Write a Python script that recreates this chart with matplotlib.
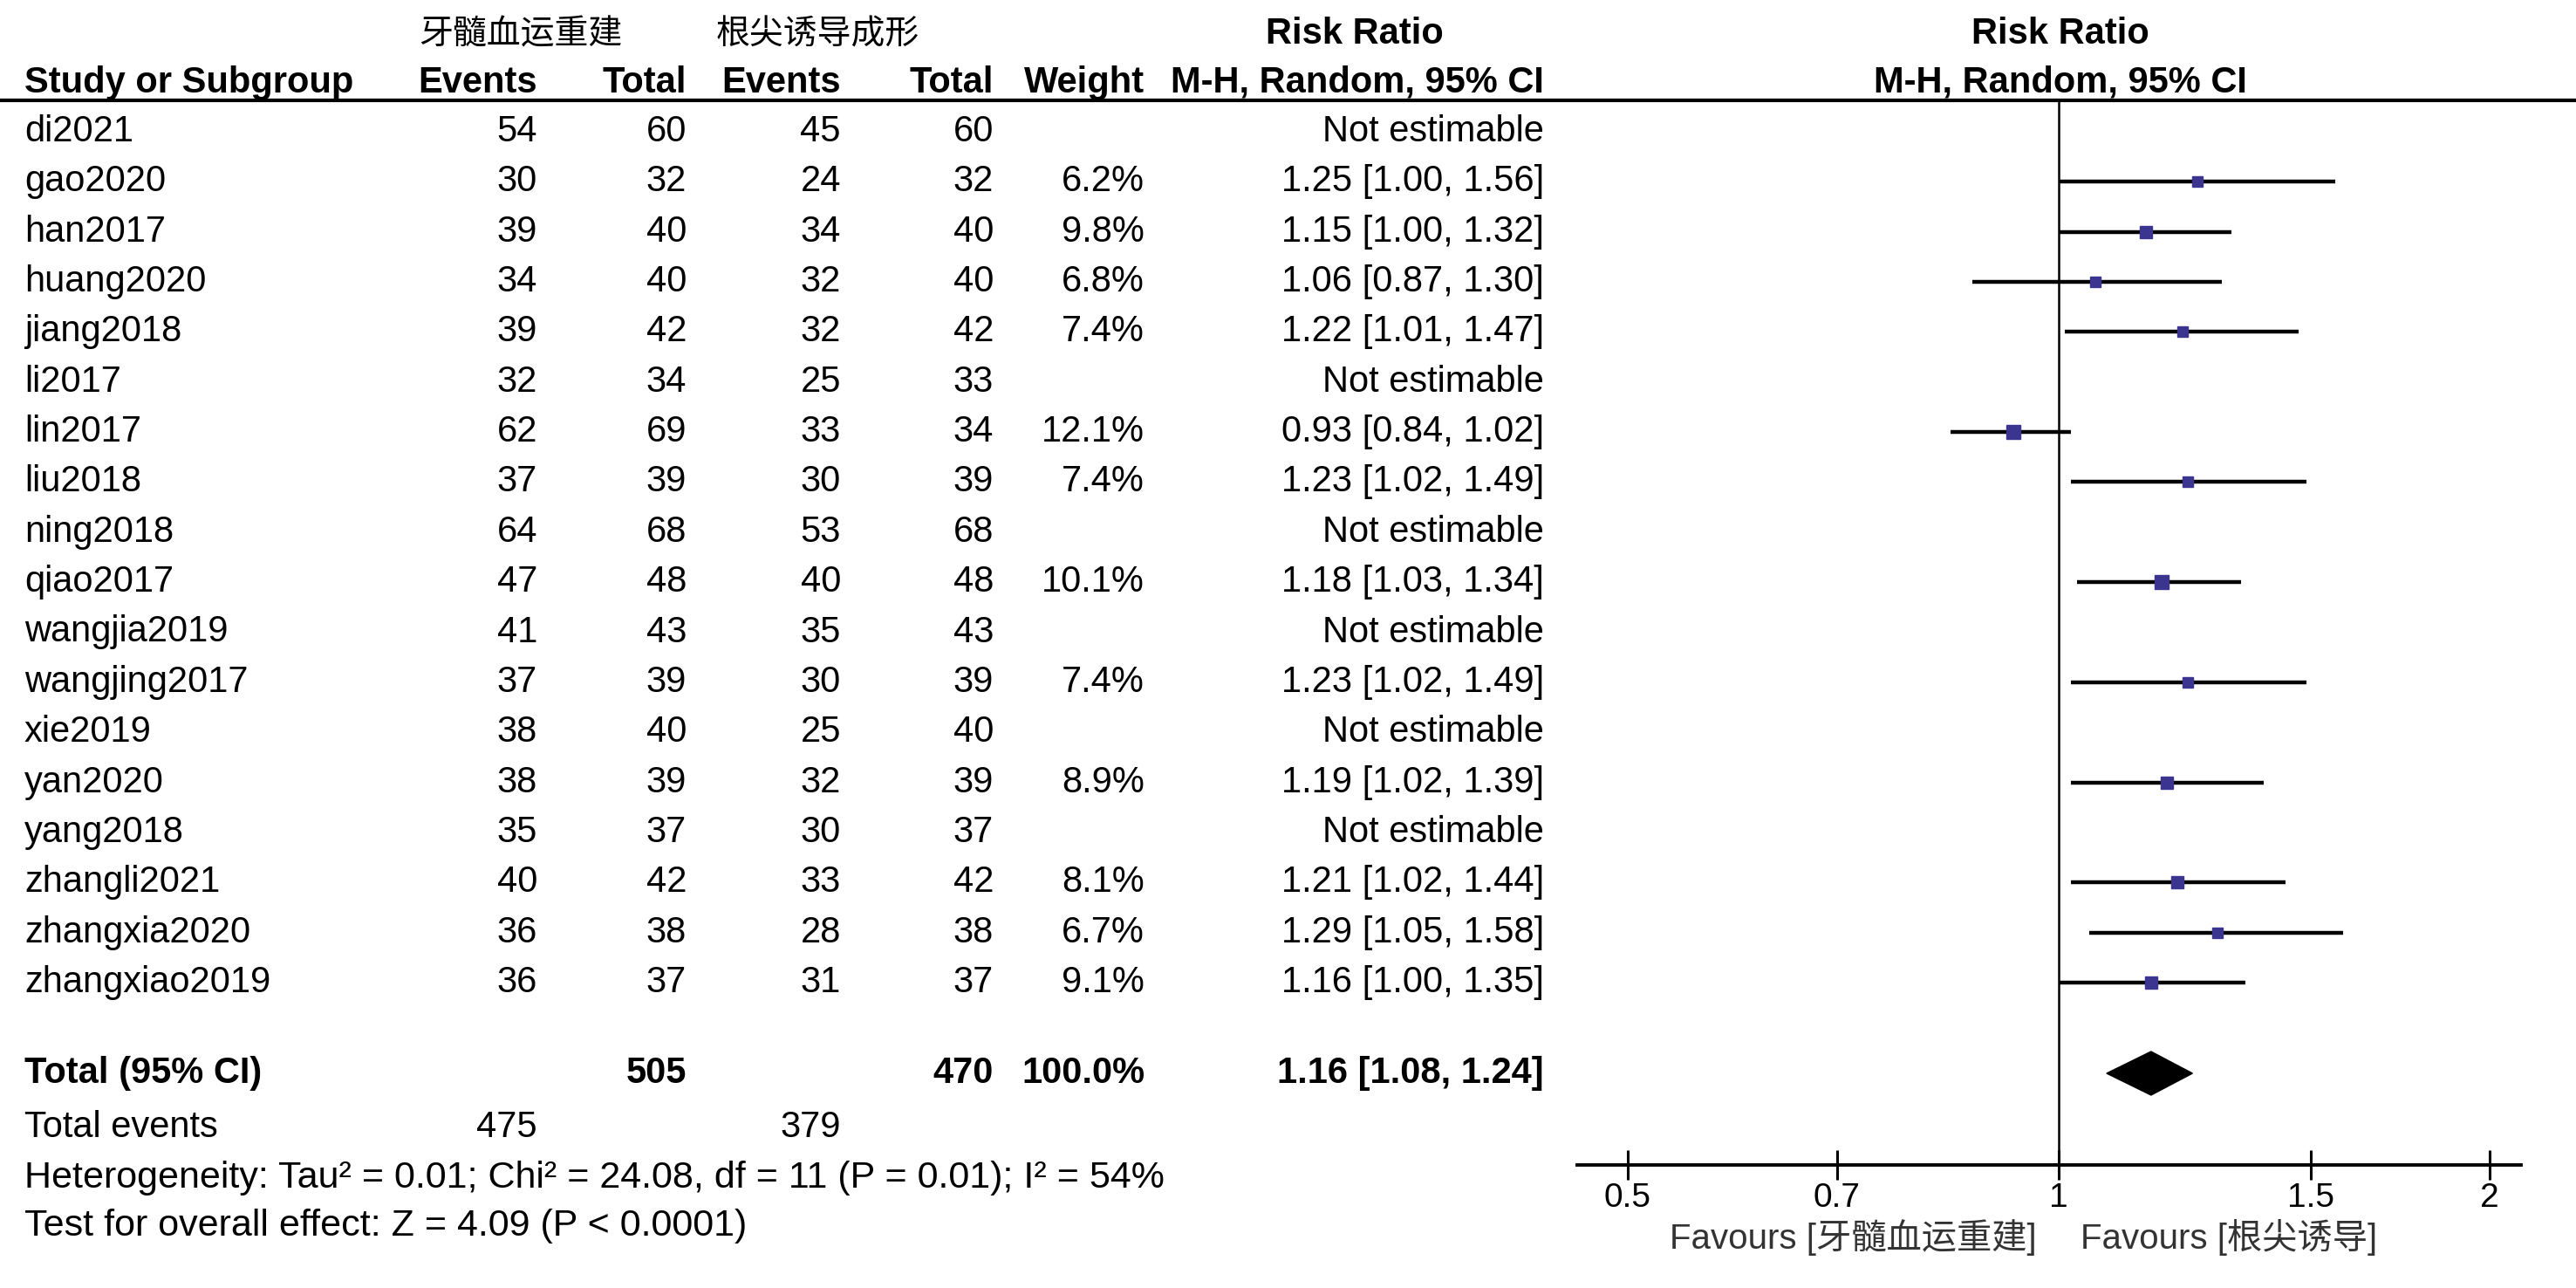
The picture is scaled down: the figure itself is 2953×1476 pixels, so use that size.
import matplotlib
matplotlib.use("Agg")
import matplotlib.pyplot as plt
import numpy as np

plt.rcParams['font.family'] = ['Liberation Sans', 'Noto Sans CJK SC', 'DejaVu Sans']

# study data
studies = ["di2021", "gao2020", "han2017", "huang2020", "jiang2018", "li2017",
           "lin2017", "liu2018", "ning2018", "qiao2017", "wangjia2019",
           "wangjing2017", "xie2019", "yan2020", "yang2018", "zhangli2021",
           "zhangxia2020", "zhangxiao2019"]
ev_pulp = [54, 30, 39, 34, 39, 32, 62, 37, 64, 47, 41, 37, 38, 38, 35, 40, 36, 36]
n_pulp = [60, 32, 40, 40, 42, 34, 69, 39, 68, 48, 43, 39, 40, 39, 37, 42, 38, 37]
ev_apex = [45, 24, 34, 32, 32, 25, 33, 30, 53, 40, 35, 30, 25, 32, 30, 33, 28, 31]
n_apex = [60, 32, 40, 40, 42, 33, 34, 39, 68, 48, 43, 39, 40, 39, 37, 42, 38, 37]
weight = [None, 6.2, 9.8, 6.8, 7.4, None, 12.1, 7.4, None, 10.1, None, 7.4, None,
          8.9, None, 8.1, 6.7, 9.1]
rr = [None, 1.25, 1.15, 1.06, 1.22, None, 0.93, 1.23, None, 1.18, None, 1.23, None,
      1.19, None, 1.21, 1.29, 1.16]
ci_lo = [None, 1.00, 1.00, 0.87, 1.01, None, 0.84, 1.02, None, 1.03, None, 1.02, None,
         1.02, None, 1.02, 1.05, 1.00]
ci_hi = [None, 1.56, 1.32, 1.30, 1.47, None, 1.02, 1.49, None, 1.34, None, 1.49, None,
         1.39, None, 1.44, 1.58, 1.35]

total_n = [505, 470]
total_ev = [475, 379]
total_rr, total_lo, total_hi = 1.16, 1.08, 1.24
ticks = [0.5, 0.7, 1, 1.5, 2]
tick_labels = ["0.5", "0.7", "1", "1.5", "2"]

grp1 = "牙髓血运重建"
grp2 = "根尖诱导成形"
het_text = "Heterogeneity: Tau² = 0.01; Chi² = 24.08, df = 11 (P = 0.01); I² = 54%"
eff_text = "Test for overall effect: Z = 4.09 (P < 0.0001)"

W, H = 2953, 1476
fig = plt.figure(figsize=(W / 100, H / 100), dpi=100)

# table axes in pixel units
tab = fig.add_axes([0, 0, 1, 1])
tab.set_xlim(0, W)
tab.set_ylim(H, 0)
tab.axis("off")

fs = 30
row_y = 151 + np.arange(len(studies)) * 57.35
y_tot = 1230

# column right edges
x_name = 28
x_e1, x_n1, x_e2, x_n2, x_w, x_ci = 616, 787, 964, 1139, 1312, 1770

# headers
tab.text(480, 50, grp1, fontsize=fs - 2, va="baseline")
tab.text(821, 50, grp2, fontsize=fs - 2, va="baseline")
tab.text(1553, 50, "Risk Ratio", fontsize=fs, weight="bold", ha="center", va="baseline")
tab.text(2362, 50, "Risk Ratio", fontsize=fs, weight="bold", ha="center", va="baseline")
hy = 106
tab.text(x_name, hy, "Study or Subgroup", fontsize=fs, weight="bold", va="baseline")
for x, s in [(x_e1, "Events"), (x_n1, "Total"), (x_e2, "Events"), (x_n2, "Total"),
             (x_w, "Weight"), (x_ci, "M-H, Random, 95% CI")]:
    tab.text(x, hy, s, fontsize=fs, weight="bold", ha="right", va="baseline")
tab.text(2362, hy, "M-H, Random, 95% CI", fontsize=fs, weight="bold", ha="center", va="baseline")
tab.axhline(115, color="black", lw=3)

# study rows
for i, name in enumerate(studies):
    y = row_y[i]
    tab.text(x_name, y, name, fontsize=fs, va="center")
    tab.text(x_e1, y, str(ev_pulp[i]), fontsize=fs, ha="right", va="center")
    tab.text(x_n1, y, str(n_pulp[i]), fontsize=fs, ha="right", va="center")
    tab.text(x_e2, y, str(ev_apex[i]), fontsize=fs, ha="right", va="center")
    tab.text(x_n2, y, str(n_apex[i]), fontsize=fs, ha="right", va="center")
    if weight[i] is None:
        tab.text(x_ci, y, "Not estimable", fontsize=fs, ha="right", va="center")
    else:
        tab.text(x_w, y, f"{weight[i]:.1f}%", fontsize=fs, ha="right", va="center")
        tab.text(x_ci, y, f"{rr[i]:.2f} [{ci_lo[i]:.2f}, {ci_hi[i]:.2f}]",
                 fontsize=fs, ha="right", va="center")

# totals
tab.text(x_name, y_tot, "Total (95% CI)", fontsize=fs, weight="bold", va="center")
tab.text(x_n1, y_tot, str(total_n[0]), fontsize=fs, weight="bold", ha="right", va="center")
tab.text(x_n2, y_tot, str(total_n[1]), fontsize=fs, weight="bold", ha="right", va="center")
tab.text(x_w, y_tot, "100.0%", fontsize=fs, weight="bold", ha="right", va="center")
tab.text(x_ci, y_tot, f"{total_rr:.2f} [{total_lo:.2f}, {total_hi:.2f}]",
         fontsize=fs, weight="bold", ha="right", va="center")
tab.text(x_name, 1292, "Total events", fontsize=fs, va="center")
tab.text(x_e1, 1292, str(total_ev[0]), fontsize=fs, ha="right", va="center")
tab.text(x_e2, 1292, str(total_ev[1]), fontsize=fs, ha="right", va="center")
tab.text(x_name, 1350, het_text, fontsize=fs + 1, va="center")
tab.text(x_name, 1405, eff_text, fontsize=fs + 1, va="center")

# forest plot axes
x0, x1 = 1808, 2890
fp = fig.add_axes([x0 / W, 0, (x1 - x0) / W, 1])
fp.set_xscale("log")
fp.set_xlim(0.461, 2.103)
fp.set_ylim(H, 0)
fp.patch.set_alpha(0)
for s in ["left", "right", "top"]:
    fp.spines[s].set_visible(False)
fp.spines["bottom"].set_position(("data", 1335))
fp.spines["bottom"].set_linewidth(2.8)
fp.set_yticks([])
fp.xaxis.set_minor_locator(matplotlib.ticker.NullLocator())
fp.set_xticks(ticks)
fp.set_xticklabels(tick_labels)
fp.tick_params(axis="x", direction="inout", length=25, width=2.2, labelsize=fs - 2, pad=2)

fp.vlines(1, 115, 1335, color="black", lw=1.8)

for i in range(len(studies)):
    if rr[i] is None:
        continue
    y = row_y[i]
    fp.hlines(y, ci_lo[i], ci_hi[i], color="black", lw=3.2)
    fp.plot(rr[i], y, marker="s", color="#3b3590", ms=3.4 * np.sqrt(weight[i]),
            mec="#3b3590", zorder=3)

dh = 25
fp.fill([total_lo, total_rr, total_hi, total_rr],
        [y_tot, y_tot - dh, y_tot, y_tot + dh], color="black", zorder=3)

tab.text(2335, 1418, "Favours [牙髓血运重建]", fontsize=fs - 1, ha="right", va="center",
         color="#333333")
tab.text(2385, 1418, "Favours [根尖诱导]", fontsize=fs - 1, ha="left", va="center",
         color="#333333")

fig.savefig("out.png", dpi=100, facecolor="white")
